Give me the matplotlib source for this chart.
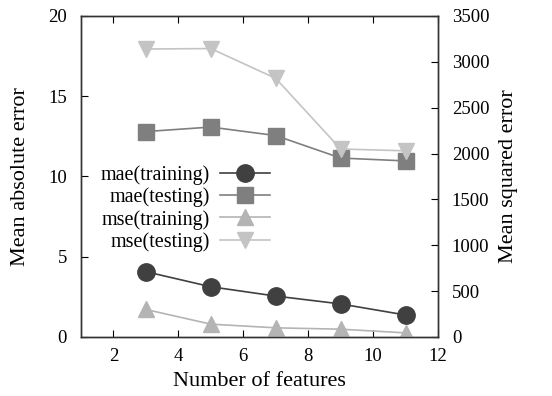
import matplotlib
matplotlib.use("Agg")
import matplotlib.pyplot as plt

plt.rcParams['font.family'] = ['Liberation Serif', 'DejaVu Serif']

features = [3, 5, 7, 9, 11]
mae_training = [4.07, 3.13, 2.55, 2.06, 1.37]
mae_testing = [12.8, 13.08, 12.55, 11.15, 10.97]
mse_training = [300, 140, 100, 85, 45]
mse_testing = [3140, 3145, 2820, 2050, 2030]

x_ticks = [2, 4, 6, 8, 10, 12]
left_ticks = [0, 5, 10, 15, 20]
right_ticks = [0, 500, 1000, 1500, 2000, 2500, 3000, 3500]

fig = plt.figure(figsize=(5.52, 3.96), dpi=100)
ax = fig.add_axes([0.1467, 0.149, 0.6468, 0.8106])
ax2 = ax.twinx()

c1, c2, c3, c4 = '#404040', '#7f7f7f', '#b4b4b4', '#c4c4c4'

l1, = ax.plot(features, mae_training, color=c1, marker='o', markersize=12.5,
              lw=1.2, label='mae(training)')
l2, = ax.plot(features, mae_testing, color=c2, marker='s', markersize=11.5,
              lw=1.2, label='mae(testing)')
l3, = ax2.plot(features, mse_training, color=c3, marker='^', markersize=11,
               lw=1.2, label='mse(training)')
l4, = ax2.plot(features, mse_testing, color=c4, marker='v', markersize=11,
               lw=1.2, label='mse(testing)')

ax.set_xlim(1, 12)
ax.set_ylim(0, 20)
ax2.set_ylim(0, 3500)
ax.set_xticks(x_ticks)
ax.set_yticks(left_ticks)
ax2.set_yticks(right_ticks)

ax.tick_params(axis='x', direction='in', top=True, length=5, labelsize=13.5, pad=8)
ax.tick_params(axis='y', direction='in', length=5, labelsize=13.5, pad=10)
ax2.tick_params(axis='y', direction='in', length=5, labelsize=13.5, pad=10)
for a in (ax, ax2):
    for s in a.spines.values():
        s.set_linewidth(1.0)
        s.set_color('#333333')

ax.set_xlabel('Number of features', fontsize=16, labelpad=5)
ax.set_ylabel('Mean absolute error', fontsize=16, labelpad=13)
ax2.set_ylabel('Mean squared error', fontsize=16, labelpad=7)

ax.legend(handles=[l1, l2, l3, l4], loc='center left',
          bbox_to_anchor=(0.02, 0.40), frameon=False, markerfirst=False,
          fontsize=14.5, handlelength=2.5, handletextpad=0.5,
          labelspacing=0.12, borderaxespad=0.2)

fig.savefig('out.png', dpi=100)
